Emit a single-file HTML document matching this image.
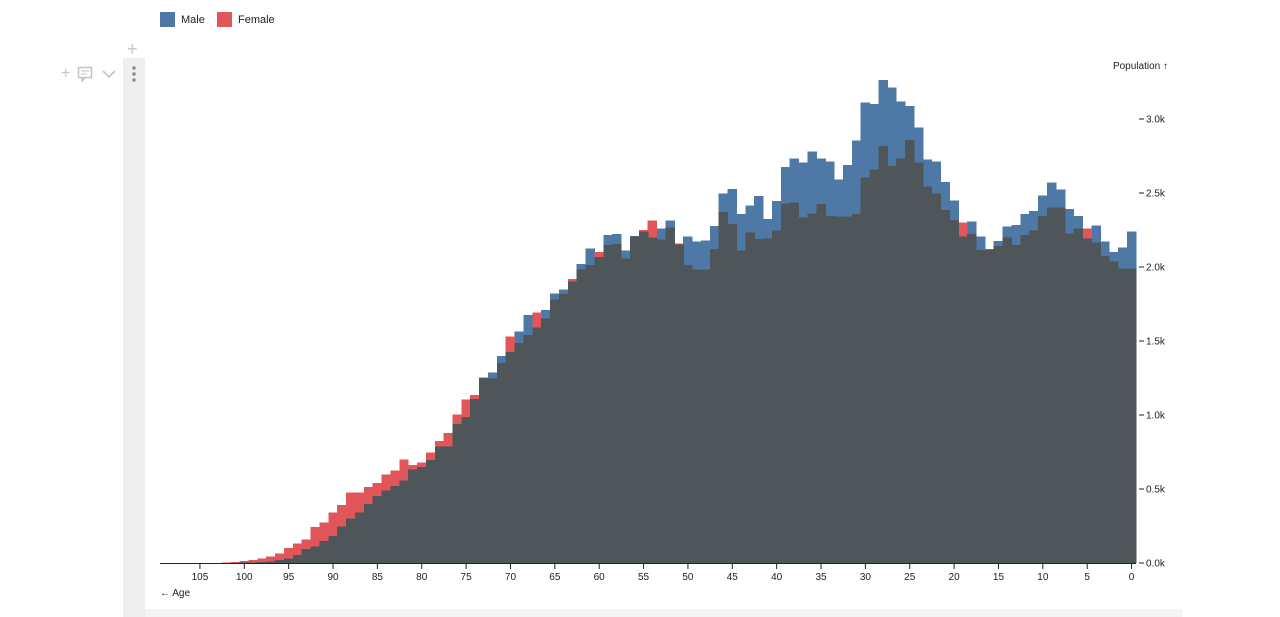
<!DOCTYPE html>
<html><head><meta charset="utf-8"><style>
body{margin:0;background:#fff;width:1280px;height:617px;overflow:hidden;font-family:"Liberation Sans",sans-serif;position:relative}
.ic{position:absolute;color:#c4c4c4;font-size:16px;line-height:16px}
</style></head><body>
<div style="position:absolute;left:123px;top:58px;width:22px;height:559px;background:#efefef"></div>
<div style="position:absolute;left:145px;top:609px;width:1037px;height:8px;background:#f4f4f4"></div>
<div class="ic" style="left:127px;top:41px;font-size:18px">+</div>
<div class="ic" style="left:61px;top:66px">+</div>
<svg style="position:absolute;left:77px;top:66px" width="16" height="16"><rect x="1.5" y="1.5" width="13" height="10" fill="none" stroke="#c4c4c4" stroke-width="1.5"/><path d="M5 11.5 L5 15 L8.5 11.5" fill="none" stroke="#c4c4c4" stroke-width="1.5"/><line x1="4" y1="5" x2="12" y2="5" stroke="#c4c4c4"/><line x1="4" y1="8" x2="10" y2="8" stroke="#c4c4c4"/></svg>
<svg style="position:absolute;left:101px;top:68px" width="16" height="12"><path d="M2 3 L8 9 L14 3" fill="none" stroke="#c4c4c4" stroke-width="1.6"/></svg>
<svg style="position:absolute;left:130px;top:65px" width="8" height="18"><circle cx="4" cy="3" r="1.7" fill="#888"/><circle cx="4" cy="9" r="1.7" fill="#888"/><circle cx="4" cy="15" r="1.7" fill="#888"/></svg>
<div style="position:absolute;left:160px;top:12px;font-size:11px;color:#222">
<span style="position:absolute;left:0;top:0;white-space:nowrap"><span style="display:inline-block;width:15px;height:15px;background:#4e79a7;vertical-align:middle"></span><span style="margin-left:6px;vertical-align:middle">Male</span></span>
<span style="position:absolute;left:57px;top:0;white-space:nowrap"><span style="display:inline-block;width:15px;height:15px;background:#e15759;vertical-align:middle"></span><span style="margin-left:6px;vertical-align:middle">Female</span></span>
</div>
<svg id="chart" width="1280" height="617" style="position:absolute;left:0;top:0" font-family="Liberation Sans, sans-serif" font-size="10"></svg>
<script>
const ages=[];for(let a=0;a<110;a++)ages.push(a);
const male=[2239,2133,2103,2171,2279,2194,2345,2392,2525,2570,2482,2378,2358,2284,2272,2176,2122,2205,2306,2205,2448,2574,2712,2728,2944,3088,3117,3214,3264,3101,3113,2854,2689,2592,2712,2734,2779,2707,2734,2674,2446,2324,2480,2414,2358,2527,2498,2277,2178,2171,2205,2153,2313,2261,2201,2239,2210,2110,2223,2216,2066,2126,2020,1901,1849,1822,1710,1590,1676,1563,1424,1399,1286,1255,1108,985,939,786,786,696,647,633,556,520,489,453,399,340,302,245,184,149,110,93,54,32,20,9,7,5,2,1,0,0,0,0,0,0,0,0];
const female=[1991,1991,2036,2074,2164,2261,2261,2228,2401,2401,2345,2245,2216,2149,2201,2142,2115,2115,2223,2299,2318,2385,2498,2543,2705,2858,2734,2682,2818,2660,2604,2358,2340,2340,2345,2426,2363,2336,2437,2430,2245,2194,2189,2232,2110,2291,2370,2120,1984,1984,2014,2160,2268,2187,2313,2250,2206,2059,2155,2149,2103,2014,1984,1919,1818,1782,1653,1691,1541,1485,1529,1353,1248,1250,1135,1106,1005,880,826,745,680,662,701,624,599,539,512,475,475,392,340,272,243,160,133,103,63,43,29,20,14,7,2,1,0,0,0,0,0,0];
const yTicks=[0,500,1000,1500,2000,2500,3000];
const xTicks=[0,5,10,15,20,25,30,35,40,45,50,55,60,65,70,75,80,85,90,95,100,105];
const NS="http://www.w3.org/2000/svg";
const svg=document.getElementById('chart');
const X0=1136,X1=160,Y0=563,Y1=119;
const xs=a=>X0+(a+0.5)*(X1-X0)/110;
const ys=v=>Y0-(v/3000)*(Y0-Y1);
function mk(t,at){const e=document.createElementNS(NS,t);for(const k in at)e.setAttribute(k,at[k]);svg.appendChild(e);return e;}
function bars(vals,color,name){
  ages.forEach((a,i)=>{const v=vals[i];if(v<=0)return;
    const r=mk('rect',{x:xs(a+0.5)-0.3,y:ys(v),width:xs(a-0.5)-xs(a+0.5)+0.6,height:Y0-ys(v),fill:color,'shape-rendering':'crispEdges'});
    
    
  });
}
bars(male,'#4e79a7','male');
bars(female,'#e15759','female');
bars(ages.map((a,i)=>Math.min(male[i],female[i])),'#4f5659','overlap');
// x axis
const xl=mk('line',{x1:X1,x2:X0,y1:Y0+0.5,y2:Y0+0.5,stroke:'#222'});


xTicks.forEach(t=>{
  const x=xs(t);
  const l=mk('line',{x1:x,x2:x,y1:Y0,y2:Y0+6,stroke:'#222'});
  
  
  const tx=mk('text',{x:x,y:Y0+17,'text-anchor':'middle',fill:'#222'});tx.textContent=t;
  
  
});
const xt=mk('text',{x:160,y:596,fill:'#222'});xt.textContent='← Age';


// y axis
yTicks.forEach(t=>{
  const y=ys(t);
  const l=mk('line',{x1:X0+3,x2:X0+8,y1:y,y2:y,stroke:'#222'});
  
  
  const tx=mk('text',{x:X0+10,y:y+3.5,fill:'#222'});tx.textContent=(t/1000).toFixed(1)+'k';
  
  
});
const yt=mk('text',{x:1168,y:69,'text-anchor':'end',fill:'#222'});yt.textContent='Population ↑';


</script>
</body></html>
